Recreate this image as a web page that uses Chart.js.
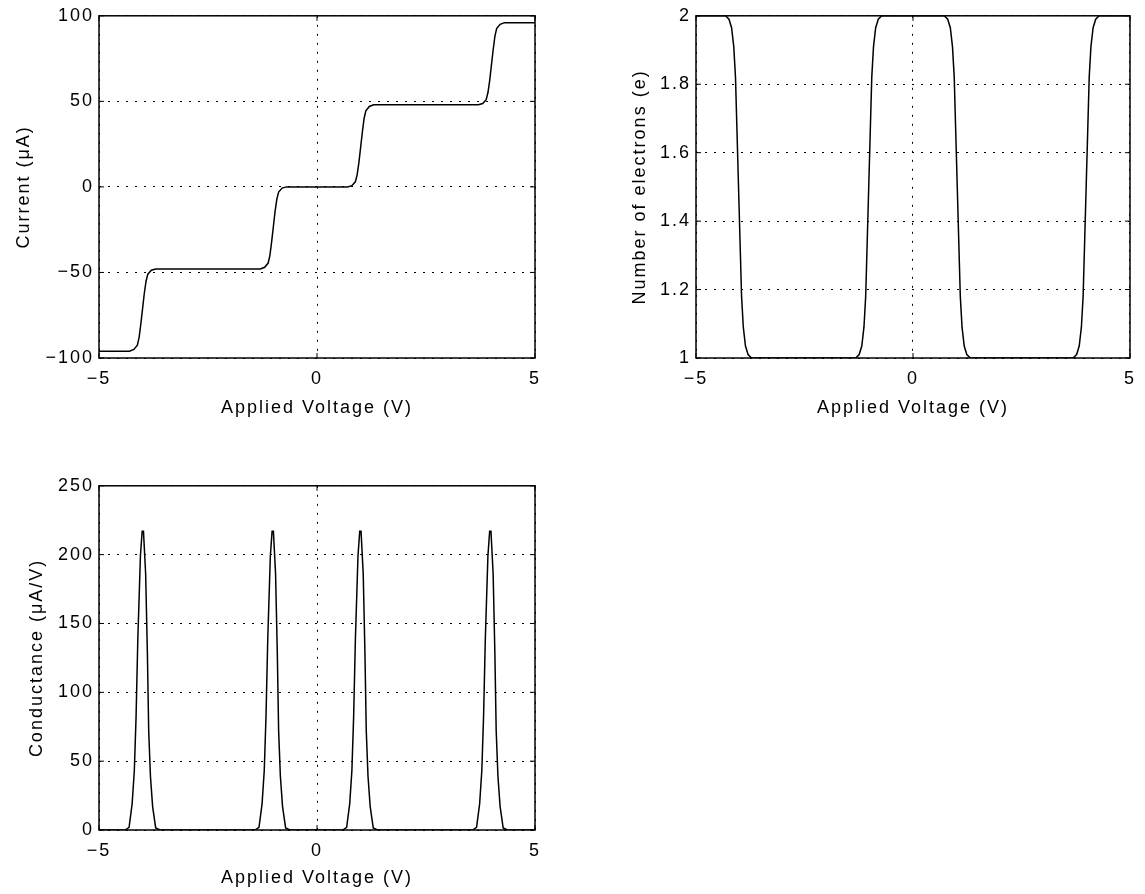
<!DOCTYPE html>
<html>
<head>
<meta charset="utf-8">
<script src="https://cdn.jsdelivr.net/npm/chart.js@4.4.1/dist/chart.umd.min.js"></script>
<style>
  body { margin: 0; background: #fff; width: 1145px; height: 894px; position: relative; overflow: hidden; }
  canvas { position: absolute; }
</style>
</head>
<body>
<canvas id="current" width="560" height="440" style="left:0;top:0"></canvas>
<canvas id="electrons" width="565" height="440" style="left:580px;top:0"></canvas>
<canvas id="conductance" width="560" height="424" style="left:0;top:470px"></canvas>
<script>
// current vs applied voltage (uA)
let currentV = [-5, -4.3, -4.2, -4.12, -4.08, -4.04, -4.0, -3.96, -3.92, -3.88, -3.8, -3.7,
  -1.3, -1.2, -1.12, -1.08, -1.04, -1.0, -0.96, -0.92, -0.88, -0.8, -0.7,
  0.7, 0.8, 0.88, 0.92, 0.96, 1.0, 1.04, 1.08, 1.12, 1.2, 1.3,
  3.7, 3.8, 3.88, 3.92, 3.96, 4.0, 4.04, 4.08, 4.12, 4.2, 4.3, 5];
let currentI = [-96, -96, -95, -92.5, -88, -80, -71, -62, -55, -51, -48.7, -48,
  -48, -47, -44.5, -40, -32, -23, -14, -7, -3, -0.7, 0,
  0, 0.7, 3, 7, 14, 23, 32, 40, 44.5, 47, 48,
  48, 48.7, 51, 55, 62, 71, 80, 88, 92.5, 95, 96, 96];

// number of electrons on the dot
let electronsV = [-5, -4.32, -4.24, -4.18, -4.13, -4.09, -4.055, -4.02, -3.985, -3.95, -3.91, -3.86, -3.8, -3.72,
  -1.32, -1.24, -1.18, -1.13, -1.09, -1.055, -1.02, -0.985, -0.95, -0.91, -0.86, -0.8, -0.72,
  0.72, 0.8, 0.86, 0.91, 0.95, 0.985, 1.02, 1.055, 1.09, 1.13, 1.18, 1.24, 1.32,
  3.69, 3.77, 3.83, 3.88, 3.92, 3.955, 3.99, 4.025, 4.06, 4.1, 4.15, 4.21, 4.29, 5];
let electronsN = [2, 2, 1.99, 1.965, 1.91, 1.82, 1.66, 1.5, 1.34, 1.18, 1.09, 1.035, 1.01, 1.0,
  1.0, 1.01, 1.035, 1.09, 1.18, 1.34, 1.5, 1.66, 1.82, 1.91, 1.965, 1.99, 2.0,
  2.0, 1.99, 1.965, 1.91, 1.82, 1.66, 1.5, 1.34, 1.18, 1.09, 1.035, 1.01, 1.0,
  1.0, 1.01, 1.035, 1.09, 1.18, 1.34, 1.5, 1.66, 1.82, 1.91, 1.965, 1.99, 2.0, 2.0];

// conductance (uA/V)
let conductV = [-5,
  -4.4, -4.31, -4.24, -4.19, -4.15, -4.11, -4.05, -4.01, -3.98, -3.93, -3.89, -3.86, -3.82, -3.77, -3.7, -3.6,
  -1.42, -1.33, -1.26, -1.21, -1.17, -1.13, -1.07, -1.03, -1.0, -0.95, -0.91, -0.88, -0.84, -0.79, -0.72, -0.62,
  0.59, 0.68, 0.75, 0.8, 0.84, 0.88, 0.94, 0.98, 1.01, 1.06, 1.1, 1.13, 1.17, 1.22, 1.29, 1.39,
  3.57, 3.66, 3.73, 3.78, 3.82, 3.86, 3.92, 3.96, 3.99, 4.04, 4.08, 4.11, 4.15, 4.2, 4.27, 4.37,
  5];
let conductG = [0,
  0, 2, 19, 43, 82, 138, 199, 217, 217, 186, 128, 72, 39, 17, 1.5, 0,
  0, 2, 19, 43, 82, 138, 199, 217, 217, 186, 128, 72, 39, 17, 1.5, 0,
  0, 2, 19, 43, 82, 138, 199, 217, 217, 186, 128, 72, 39, 17, 1.5, 0,
  0, 2, 19, 43, 82, 138, 199, 217, 217, 186, 128, 72, 39, 17, 1.5, 0,
  0];

Chart.defaults.font.family = "'Liberation Sans', Arial, sans-serif";
Chart.defaults.font.size = 18;
Chart.defaults.color = '#000';

// matlab style: boxed axes with small inward ticks
let frame = {
  id: 'frame',
  beforeDraw(chart) {
    chart.ctx.letterSpacing = '2px';
  },
  afterDraw(chart) {
    let {ctx, chartArea: a, scales: {x, y}} = chart;
    ctx.save();
    ctx.strokeStyle = '#000';
    ctx.lineWidth = 1;
    ctx.beginPath();
    y.ticks.forEach(t => {
      let p = y.getPixelForValue(t.value);
      ctx.moveTo(a.left, p); ctx.lineTo(a.left + 5, p);
      ctx.moveTo(a.right, p); ctx.lineTo(a.right - 5, p);
    });
    x.ticks.forEach(t => {
      let p = x.getPixelForValue(t.value);
      ctx.moveTo(p, a.bottom); ctx.lineTo(p, a.bottom - 5);
      ctx.moveTo(p, a.top); ctx.lineTo(p, a.top + 5);
    });
    ctx.stroke();
    ctx.lineWidth = 1.5;
    ctx.strokeRect(a.left, a.top, a.right - a.left, a.bottom - a.top);
    ctx.restore();
  }
};

function minus(v) {
  return String(v).replace('-', '\u2212');
}

function plot(id, volts, values, o) {
  let ctx = document.getElementById(id).getContext('2d');
  return new Chart(ctx, {
    type: 'line',
    data: {
      datasets: [{
        data: volts.map((v, i) => ({x: v, y: values[i]})),
        borderColor: '#000',
        borderWidth: 1.5,
        pointRadius: 0,
        tension: 0
      }]
    },
    options: {
      responsive: false,
      animation: false,
      layout: {padding: {top: 15, right: o.right, left: 0, bottom: 0}},
      plugins: {legend: {display: false}, tooltip: {enabled: false}},
      scales: {
        x: {
          type: 'linear', min: -5, max: 5,
          afterFit: s => { s.height = o.xHeight; },
          ticks: {stepSize: 5, padding: 10, callback: minus, maxRotation: 0},
          grid: {color: '#000', lineWidth: 1, drawTicks: false},
          border: {display: false, dash: [2, 7]},
          title: {display: true, text: 'Applied Voltage (V)', padding: {bottom: o.xTitle, top: 0}}
        },
        y: {
          min: o.min, max: o.max,
          afterFit: s => { s.width = o.yWidth; },
          ticks: {stepSize: o.step, padding: 5, callback: minus},
          grid: {color: '#000', lineWidth: 1, drawTicks: false},
          border: {display: false, dash: [2, 7]},
          title: {display: true, text: o.title, padding: {top: o.yTitle, bottom: 0}}
        }
      }
    },
    plugins: [frame]
  });
}

plot('current', currentV, currentI, {min: -100, max: 100, step: 50, title: 'Current (\u03bcA)',
  right: 25, xHeight: 82, yWidth: 99, xTitle: 21, yTitle: 13});
plot('electrons', electronsV, electronsN, {min: 1, max: 2, step: 0.2, title: 'Number of electrons (e)',
  right: 14, xHeight: 82, yWidth: 116, xTitle: 21, yTitle: 49});
plot('conductance', conductV, conductG, {min: 0, max: 250, step: 50, title: 'Conductance (\u03bcA/V)',
  right: 25, xHeight: 64, yWidth: 99, xTitle: 5, yTitle: 26});
</script>
</body>
</html>
